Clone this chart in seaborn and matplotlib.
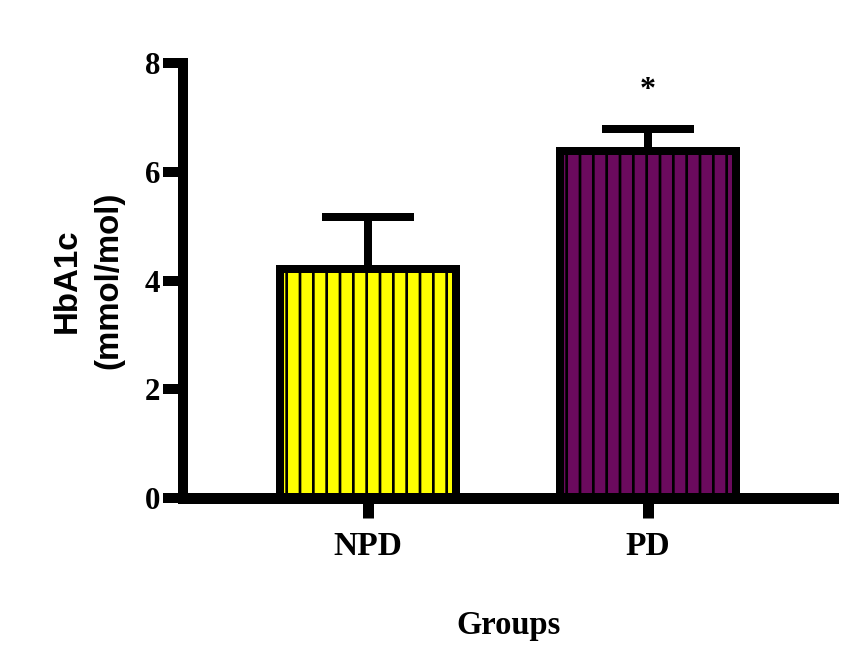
import matplotlib
matplotlib.use("Agg")
import matplotlib.pyplot as plt
import seaborn as sns

# Data
groups = ["NPD", "PD"]
means = [4.21, 6.38]
sem = [0.96, 0.40]
bar_colors = ["#FFFF00", "#6B0A5E"]
y_ticks = [0, 2, 4, 6, 8]

DPI = 80
PX = 72 / DPI  # points per pixel

sns.set_style("ticks")
plt.rcParams["hatch.linewidth"] = 2.7 * PX
plt.rcParams["hatch.color"] = "black"
plt.rcParams["axes.edgecolor"] = "black"
plt.rcParams["xtick.color"] = "black"
plt.rcParams["ytick.color"] = "black"
plt.rcParams["text.color"] = "black"
plt.rcParams["axes.labelcolor"] = "black"

fig = plt.figure(figsize=(851 / DPI, 657 / DPI), dpi=DPI)
ax = fig.add_axes([183 / 851, 159 / 657, (833 - 183) / 851, (498 - 63) / 657])

# error bars (upper only) behind the bars
ax.errorbar(
    x=[0, 1], y=means, yerr=[[0, 0], sem],
    fmt="none", ecolor="black", elinewidth=8 * PX,
    capsize=46 * PX, capthick=8 * PX, zorder=0.5,
)

sns.barplot(
    x=groups, y=means, hue=groups, palette=bar_colors,
    width=0.63, saturation=1, edgecolor="black", linewidth=8 * PX,
    hatch="|", errorbar=None, legend=False, ax=ax, zorder=1,
)

# significance mark
ax.text(1, 7.49, "*", ha="center", va="center", fontsize=32 * PX,
        family="Liberation Serif", weight="bold", color="black")

ax.set_xlim(-0.661, 1.661)
ax.set_ylim(0, 8)
ax.set_yticks(y_ticks)
ax.set_yticklabels([str(t) for t in y_ticks])

for side in ["top", "right"]:
    ax.spines[side].set_visible(False)
ax.spines["left"].set_linewidth(10 * PX)
ax.spines["bottom"].set_linewidth(11 * PX)
for side in ["left", "bottom"]:
    ax.spines[side].set_capstyle("projecting")
    ax.spines[side].set_color("black")
    ax.spines[side].set_zorder(3)

ax.tick_params(axis="y", length=20 * PX, width=10 * PX, pad=3 * PX, colors="black")
ax.tick_params(axis="x", length=20 * PX, width=11 * PX, pad=13 * PX, colors="black")

for lab in ax.get_yticklabels():
    lab.set_fontfamily("Liberation Serif")
    lab.set_fontweight("bold")
    lab.set_fontsize(31 * PX)
for lab in ax.get_xticklabels():
    lab.set_fontfamily("Liberation Serif")
    lab.set_fontweight("bold")
    lab.set_fontsize(33.5 * PX)

ax.set_xlabel("Groups", family="Liberation Serif", weight="bold",
              fontsize=32.5 * PX, labelpad=48 * PX)
ax.set_ylabel("HbA1c\n(mmol/mol)", family="Liberation Sans", weight="bold",
              fontsize=33 * PX, labelpad=20 * PX, linespacing=1.45)

fig.savefig("out.png", dpi=DPI)
